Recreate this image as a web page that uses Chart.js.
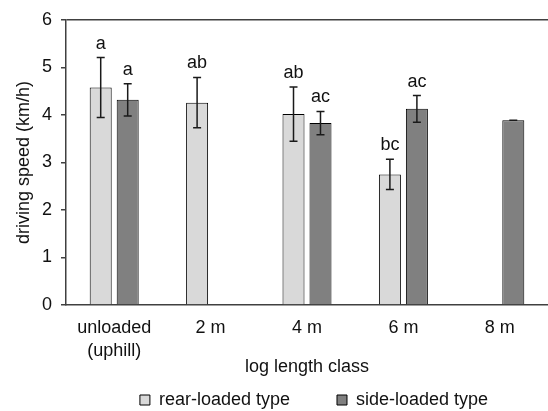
<!DOCTYPE html>
<html>
<head>
<meta charset="utf-8">
<script src="https://cdn.jsdelivr.net/npm/chart.js@4/dist/chart.umd.min.js"></script>
<style>
  html, body { margin: 0; padding: 0; background: #fff; }
  #wrap { width: 548px; height: 411px; }
</style>
</head>
<body>
<div id="wrap"><canvas id="myChart" width="548" height="411"></canvas></div>
<script>
var categories = [['unloaded', '(uphill)'], '2 m', '4 m', '6 m', '8 m'];
var rearValues = [4.58, 4.26, 4.02, 2.75, null];
var sideValues = [4.32, null, 3.83, 4.13, 3.89];
var rearErrors = [0.63, 0.53, 0.57, 0.32, null];
var sideErrors = [0.34, null, 0.245, 0.28, 0];
var rearLetters = ['a', 'ab', 'ab', 'bc', ''];
var sideLetters = ['a', '', 'ac', 'ac', ''];
var yTicks = [0, 1, 2, 3, 4, 5, 6];

Chart.defaults.font.family = '"Liberation Sans", Arial, sans-serif';
Chart.defaults.font.size = 18;
Chart.defaults.color = '#111';

// error bars and significance letters on top of the bars
var errorBars = {
  id: 'errorBars',
  afterDatasetsDraw: function(chart) {
    var ctx = chart.ctx;
    var y = chart.scales.y;
    var errs = [rearErrors, sideErrors];
    var letters = [rearLetters, sideLetters];
    ctx.save();
    chart.data.datasets.forEach(function(ds, di) {
      var meta = chart.getDatasetMeta(di);
      meta.data.forEach(function(bar, i) {
        var v = ds.data[i];
        var e = errs[di][i];
        if (v === null || e === null) return;
        var top = y.getPixelForValue(v + e);
        var bot = y.getPixelForValue(v - e);
        ctx.strokeStyle = '#1a1a1a';
        ctx.lineWidth = 1.5;
        ctx.beginPath();
        ctx.moveTo(bar.x, top); ctx.lineTo(bar.x, bot);
        ctx.moveTo(bar.x - 4, top); ctx.lineTo(bar.x + 4, top);
        ctx.moveTo(bar.x - 4, bot); ctx.lineTo(bar.x + 4, bot);
        ctx.stroke();
        if (letters[di][i]) {
          ctx.fillStyle = '#111';
          ctx.font = '18px "Liberation Sans", Arial, sans-serif';
          ctx.textAlign = 'center';
          ctx.textBaseline = 'alphabetic';
          ctx.fillText(letters[di][i], bar.x, top - 9);
        }
      });
    });
    ctx.restore();
  },
  afterLayout: function(chart) {
    // legend sits centred under the plot area, not the canvas
    chart.legend.left += 40;
    chart.legend.right += 40;
    // let the two-line category label and the axis title reach below the legend's top
    chart.scales.x.bottom += 36;
  }
};

var ctx = document.getElementById('myChart').getContext('2d');
var myChart = new Chart(ctx, {
  type: 'bar',
  data: {
    labels: categories,
    datasets: [{
      label: 'rear-loaded type',
      data: rearValues,
      backgroundColor: '#d9d9d9',
      borderColor: '#000',
      borderWidth: 1
    }, {
      label: 'side-loaded type',
      data: sideValues,
      backgroundColor: '#808080',
      borderColor: '#000',
      borderWidth: 1
    }]
  },
  options: {
    responsive: false,
    animation: false,
    datasets: {
      bar: { categoryPercentage: 0.56, barPercentage: 0.815 }
    },
    layout: { padding: { top: 20, left: 0, right: 0, bottom: -8 } },
    plugins: {
      tooltip: { enabled: false },
      legend: {
        position: 'bottom',
        labels: { boxWidth: 10, boxHeight: 10, padding: 47, color: '#111' }
      }
    },
    scales: {
      x: {
        grid: { display: false, drawTicks: false },
        border: { display: true, color: '#404040', width: 1.5 },
        ticks: { padding: 12, maxRotation: 0, font: { size: 18, lineHeight: 1.25 } },
        title: { display: true, text: 'log length class', padding: { top: 0, bottom: 2 } },
        afterFit: function(s) { s.height = 39; }
      },
      y: {
        min: 0,
        max: 6,
        afterBuildTicks: function(s) { s.ticks = yTicks.map(function(v) { return { value: v }; }); },
        grid: {
          color: function(c) { return c.tick && c.tick.value === 6 ? '#404040' : 'rgba(0,0,0,0)'; },
          lineWidth: 1.5,
          tickColor: '#404040',
          tickLength: 5
        },
        border: { display: true, color: '#404040', width: 1.5 },
        ticks: { padding: 9 },
        title: { display: true, text: 'driving speed (km/h)', padding: { top: 13, bottom: 0 } },
        afterFit: function(s) { s.width = 66; }
      }
    }
  },
  plugins: [errorBars]
});
</script>
</body>
</html>
